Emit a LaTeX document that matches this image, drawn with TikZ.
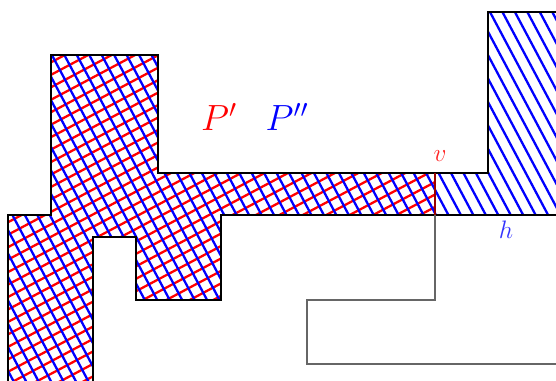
\documentclass[tikz,border=0pt]{standalone}
\begin{document}
\begin{tikzpicture}[x=0.02cm,y=-0.02cm,
  outline/.style={draw=black,line width=0.9pt,line join=miter},
  greyline/.style={draw=black!60,line width=0.8pt},
  hatchred/.style={draw=red,line width=1.3pt},
  hatchblue/.style={draw=blue,line width=1.3pt},
  biglabel/.style={font=\fontsize{21}{26}\selectfont},
  smalllabel/.style={font=\fontsize{15}{18}\selectfont}]
\useasboundingbox (0,0) rectangle (556,381);
% red hatch over P'
\begin{scope}
  \clip (8,381) -- (8,215) -- (51,215) -- (51,55) -- (158,55) -- (158,173) -- (435,173) -- (435,215) -- (221,215) -- (221,300) -- (136,300) -- (136,237) -- (93,237) -- (93,381) -- cycle;
  \begin{scope}[rotate=28]
    \foreach \k in {-900,-889,...,900} {\draw[hatchred] (-900,\k) -- (900,\k);}
  \end{scope}
\end{scope}
% blue hatch over P' and P''
\begin{scope}
  \clip (8,381) -- (8,215) -- (51,215) -- (51,55) -- (158,55) -- (158,173) -- (488,173) -- (488,12) -- (556,12) -- (556,215) -- (221,215) -- (221,300) -- (136,300) -- (136,237) -- (93,237) -- (93,381) -- cycle;
  \begin{scope}[rotate=-62]
    \foreach \k in {-900,-889,...,900} {\draw[hatchblue] (-900,\k) -- (900,\k);}
  \end{scope}
\end{scope}
% outlines
\draw[outline] (8,381) -- (8,215) -- (51,215) -- (51,55) -- (158,55) -- (158,173) -- (488,173) -- (488,12) -- (556,12);
\draw[outline] (556,215) -- (221,215) -- (221,300) -- (136,300) -- (136,237) -- (93,237) -- (93,381);
\draw[draw=red!60!black,line width=0.8pt] (435,173) -- (435,215);
\draw[greyline] (435,215) -- (435,300) -- (307,300) -- (307,364) -- (556,364);
% labels
\node[biglabel,text=red] (pp) at (219,117) {$P'$};
\node[biglabel,text=blue] (ppp) at (287,117) {$P''$};
\node[smalllabel,text=red!85] (v) at (440,156) {$v$};
\node[smalllabel,text=blue!80] (h) at (506,230) {$h$};
\end{tikzpicture}
\end{document}
